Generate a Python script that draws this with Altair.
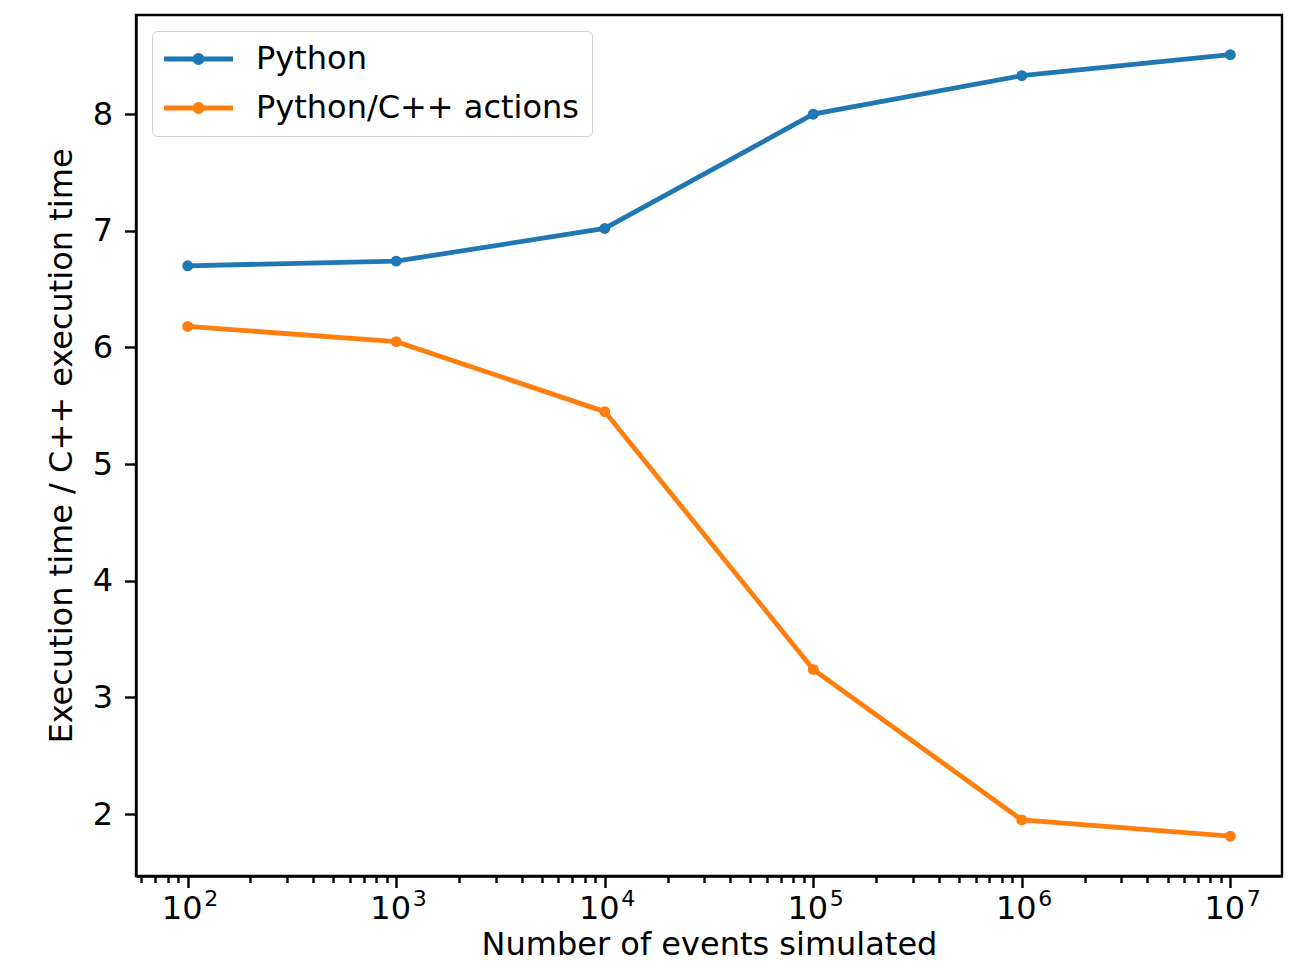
import math
import altair as alt
import pandas as pd

events = [1e2, 1e3, 1e4, 1e5, 1e6, 1e7]
python_ratio = [6.70, 6.74, 7.02, 8.00, 8.33, 8.51]
cpp_actions_ratio = [6.18, 6.05, 5.45, 3.24, 1.95, 1.81]
series_names = ["Python", "Python/C++ actions"]
series_colors = ["#1f77b4", "#ff7f0e"]
y_ticks = [2, 3, 4, 5, 6, 7, 8]

rows = []
for name, vals in zip(series_names, [python_ratio, cpp_actions_ratio]):
    for e, v in zip(events, vals):
        rows.append({"events": e, "ratio": v, "series": name})
df = pd.DataFrame(rows)

major_ticks = [1e2, 1e3, 1e4, 1e5, 1e6, 1e7]
minor_ticks = [m * 10 ** k for k in range(1, 8) for m in range(2, 10)]
minor_ticks = [t for t in minor_ticks if 56 <= t <= 1.77e7]

FONT = "DejaVu Sans"
FS = 32
SUP_FS = 22

x_domain = [10 ** 1.752, 10 ** 7.248]
y_domain = [1.469, 8.85]

# legend symbol: line with a dot in the middle (unit = 7px)
n = 16
r = 0.5
cx = 2.64
circle = "M" + " L".join(
    f"{cx + r * math.cos(2 * math.pi * i / n):.3f},{r * math.sin(2 * math.pi * i / n):.3f}"
    for i in range(n)
) + " Z"
sym_path = "M-2.29,0 L7.57,0 " + circle

x_scale = alt.Scale(type="log", domain=x_domain, nice=False)
y_scale = alt.Scale(domain=y_domain, nice=False, zero=False)

TICK = 11.5

lines = alt.Chart(df).mark_line(
    strokeWidth=4.8,
    point=alt.OverlayMarkDef(filled=True, size=120, opacity=1),
).encode(
    x=alt.X(
        "events:Q",
        scale=x_scale,
        axis=alt.Axis(
            values=major_ticks,
            title="Number of events simulated",
            labelExpr="'10'",
            labelOffset=-6,
            tickSize=TICK,
            labelPadding=6,
            titlePadding=5,
            grid=False,
            orient="bottom",
        ),
    ),
    y=alt.Y(
        "ratio:Q",
        scale=y_scale,
        axis=alt.Axis(
            values=y_ticks,
            title="Execution time / C++ execution time",
            tickSize=TICK,
            labelPadding=12,
            titlePadding=14,
            grid=False,
        ),
    ),
    color=alt.Color(
        "series:N",
        scale=alt.Scale(domain=series_names, range=series_colors),
        legend=alt.Legend(
            title=None,
            orient="top-left",
            offset=16,
            symbolType=sym_path,
            symbolSize=196,
            symbolStrokeWidth=4.8,
            symbolOffset=0,
            labelOffset=60,
            rowPadding=17,
            padding=12,
            strokeColor="#d0d0d0",
            fillColor="rgba(255,255,255,0.8)",
            cornerRadius=5,
            labelFontSize=FS,
            labelFont=FONT,
            labelColor="#000000",
            labelLimit=0,
        ),
    ),
)

minor = alt.Chart(pd.DataFrame({"events": [1e2]})).mark_point(opacity=0).encode(
    x=alt.X(
        "events:Q",
        scale=x_scale,
        axis=alt.Axis(
            values=minor_ticks,
            labels=False,
            title=None,
            tickSize=6.5,
            domain=False,
            grid=False,
            orient="bottom",
        ),
    )
)

exponents = alt.Chart(pd.DataFrame({"events": [1e2]})).mark_point(opacity=0).encode(
    x=alt.X(
        "events:Q",
        scale=x_scale,
        axis=alt.Axis(
            values=major_ticks,
            labelExpr="'' + round(log(datum.value)/LN10)",
            labelFontSize=SUP_FS,
            labelAlign="left",
            labelOffset=16,
            labelPadding=1,
            tickSize=TICK,
            tickColor="transparent",
            title=None,
            domain=False,
            grid=False,
            orient="bottom",
        ),
    )
)

chart = (
    alt.layer(lines, minor, exponents)
    .resolve_axis(x="independent")
    .properties(
        width=1146,
        height=861,
        autosize=alt.AutoSizeParams(type="none"),
        padding={"left": 128, "top": 7, "right": 2, "bottom": 91},
    )
    .configure_view(stroke="#000000", strokeWidth=2.4)
    .configure_axis(
        domainColor="#000000",
        domainWidth=2.4,
        tickColor="#000000",
        tickWidth=2.4,
        labelFont=FONT,
        labelFontSize=FS,
        labelColor="#000000",
        titleFont=FONT,
        titleFontSize=FS,
        titleFontWeight="normal",
        titleColor="#000000",
    )
)

chart.save("out.html", embed_options={"renderer": "svg", "actions": False})
